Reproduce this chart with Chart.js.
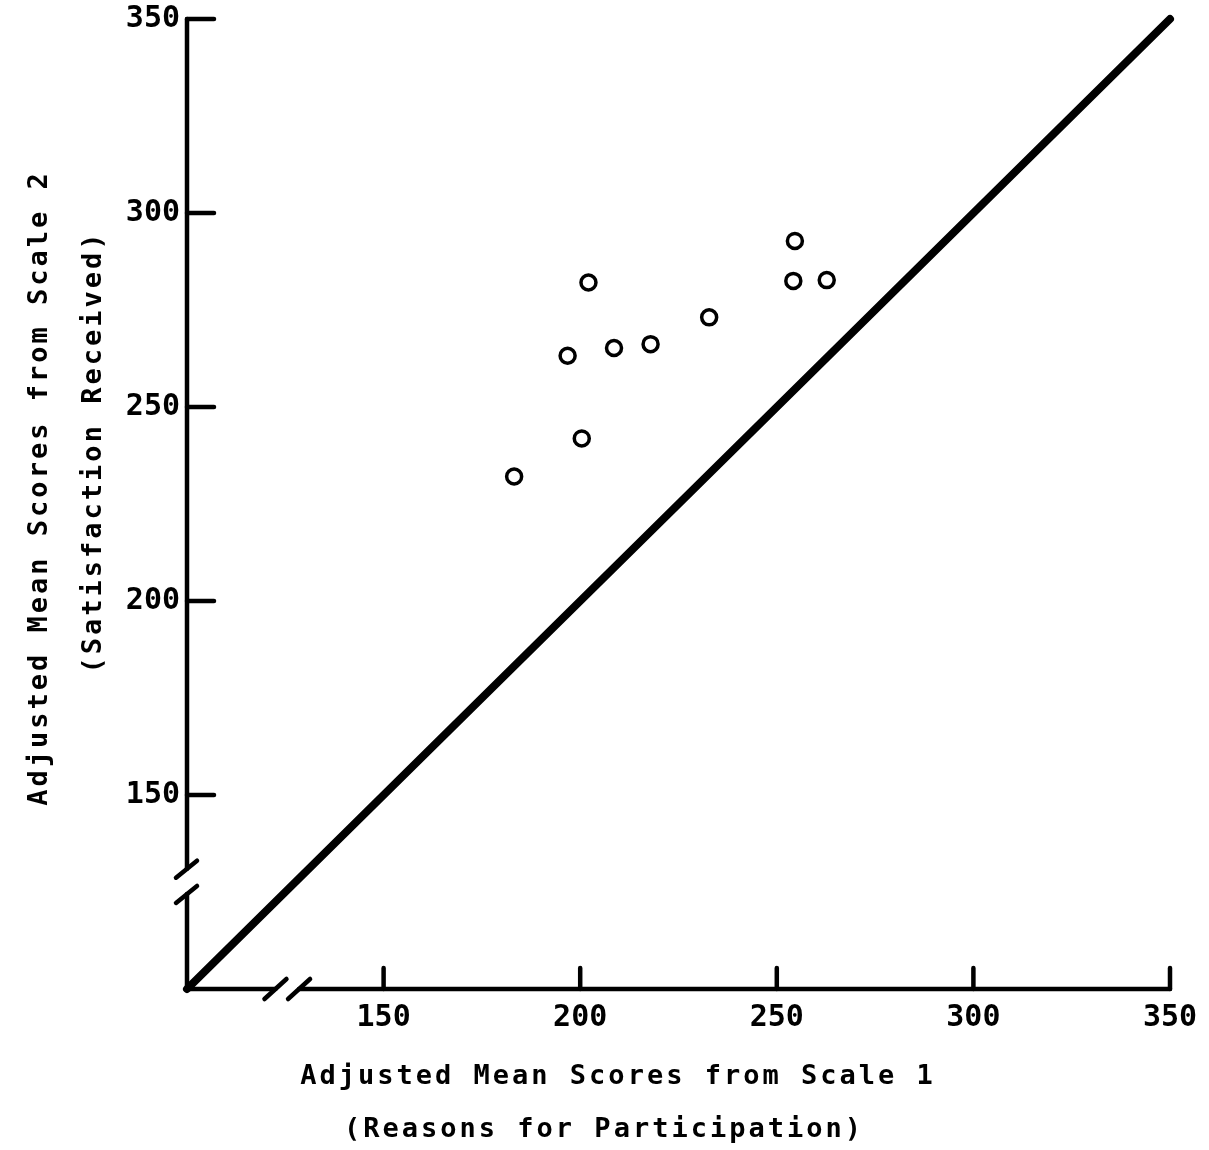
<!DOCTYPE html>
<html>
<head>
<meta charset="utf-8">
<script src="https://cdn.jsdelivr.net/npm/chart.js@4/dist/chart.umd.min.js"></script>
<style>
  html, body { margin: 0; padding: 0; background: #fff; }
  canvas { display: block; }
</style>
</head>
<body>
<canvas id="chart" width="1209" height="1150"></canvas>
<script>
// ── Data ────────────────────────────────────────────────────

// Adjusted mean scores, one point per group
const scale1Scores = [183.2, 196.8, 200.4, 202.1, 208.6, 217.9, 232.8, 254.6, 254.2, 262.7];
const scale2Scores = [232.1, 263.2, 241.9, 282.1, 265.2, 266.2, 273.1, 292.8, 282.5, 282.7];

// Line of equality (Scale 1 = Scale 2)
const equalityX = [100, 350];
const equalityY = [100, 350];

const tickValues = [150, 200, 250, 300, 350];
const axisMin = 100;
const axisMax = 350;

// Where the axes are broken (in axis units)
const xBreak = [122.5, 128.5];
const yBreak = [124.5, 131];

const xTitleLines = ["Adjusted Mean Scores from Scale 1", "(Reasons for Participation)"];
const yTitleLines = ["Adjusted Mean Scores from Scale 2", "(Satisfaction Received)"];

const FONT = "'DejaVu Sans Mono', monospace";

// ── Hand-drawn style axes, ticks, breaks and titles ─────────

const axesPlugin = {
  id: "handAxes",
  afterDraw(chart) {
    const { ctx, scales: { x, y } } = chart;
    const x0 = x.getPixelForValue(axisMin);
    const y0 = y.getPixelForValue(axisMin);
    const xEnd = x.getPixelForValue(axisMax);
    const yEnd = y.getPixelForValue(axisMax);

    const seg = (ax, ay, bx, by) => {
      ctx.beginPath();
      ctx.moveTo(ax, ay);
      ctx.lineTo(bx, by);
      ctx.stroke();
    };

    ctx.save();
    ctx.strokeStyle = "#000";
    ctx.lineWidth = 4.5;
    ctx.lineCap = "round";

    // y axis, broken near the bottom
    seg(x0, yEnd, x0, y.getPixelForValue(yBreak[1]));
    seg(x0, y.getPixelForValue(yBreak[0]), x0, y0);
    // x axis, broken near the left
    seg(x0, y0, x.getPixelForValue(xBreak[0]), y0);
    seg(x.getPixelForValue(xBreak[1]), y0, xEnd, y0);

    // break marks
    yBreak.forEach((v) => {
      const py = y.getPixelForValue(v);
      seg(x0 - 11, py + 9, x0 + 10, py - 8);
    });
    xBreak.forEach((v) => {
      const px = x.getPixelForValue(v);
      seg(px - 11, y0 + 10, px + 11, y0 - 10);
    });

    // ticks point into the plot
    tickValues.forEach((v) => {
      const py = y.getPixelForValue(v);
      seg(x0, py, x0 + 27, py);
      const px = x.getPixelForValue(v);
      seg(px, y0, px, y0 - 21);
    });

    // axis titles
    ctx.fillStyle = "#000";
    ctx.font = `bold 27px ${FONT}`;
    ctx.letterSpacing = "3px";
    ctx.textAlign = "center";
    ctx.textBaseline = "middle";

    ctx.fillText(xTitleLines[0], 618, 1077);
    ctx.fillText(xTitleLines[1], 604, 1130);

    ctx.save();
    ctx.translate(40, 488);
    ctx.rotate(-Math.PI / 2);
    ctx.fillText(yTitleLines[0], 0, 0);
    ctx.restore();

    ctx.save();
    ctx.translate(94, 452);
    ctx.rotate(-Math.PI / 2);
    ctx.fillText(yTitleLines[1], 0, 0);
    ctx.restore();

    ctx.restore();
  },
};

// ── Chart ───────────────────────────────────────────────────

const points = scale1Scores.map((v, i) => ({ x: v, y: scale2Scores[i] }));
const equality = equalityX.map((v, i) => ({ x: v, y: equalityY[i] }));

const tickFont = { family: FONT, size: 30, weight: "bold" };

new Chart(document.getElementById("chart"), {
  type: "scatter",
  data: {
    datasets: [
      {
        label: "Groups",
        data: points,
        pointRadius: 7.5,
        pointBorderWidth: 3.5,
        pointBorderColor: "#000",
        pointBackgroundColor: "#fff",
        showLine: false,
      },
      {
        label: "Scale 1 = Scale 2",
        data: equality,
        showLine: true,
        borderColor: "#000",
        borderWidth: 8,
        borderCapStyle: "round",
        pointRadius: 0,
        clip: false,
      },
    ],
  },
  options: {
    responsive: false,
    animation: false,
    layout: { padding: { top: 19, right: 39, left: 0, bottom: 0 } },
    plugins: {
      legend: { display: false },
      tooltip: { enabled: false },
    },
    scales: {
      x: {
        type: "linear",
        min: axisMin,
        max: axisMax,
        afterBuildTicks: (scale) => {
          scale.ticks = tickValues.map((v) => ({ value: v }));
        },
        afterFit: (scale) => {
          scale.height = 161;
          scale.paddingLeft = 0;
          scale.paddingRight = 0;
        },
        grid: { display: false, drawTicks: false },
        border: { display: false },
        ticks: { color: "#000", font: tickFont, padding: 11, maxRotation: 0 },
      },
      y: {
        type: "linear",
        min: axisMin,
        max: axisMax,
        afterBuildTicks: (scale) => {
          scale.ticks = tickValues.map((v) => ({ value: v }));
        },
        afterFit: (scale) => {
          scale.width = 187;
          scale.paddingTop = 0;
          scale.paddingBottom = 0;
        },
        grid: { display: false, drawTicks: false },
        border: { display: false },
        ticks: { color: "#000", font: tickFont, padding: 7 },
      },
    },
  },
  plugins: [axesPlugin],
});
</script>
</body>
</html>
